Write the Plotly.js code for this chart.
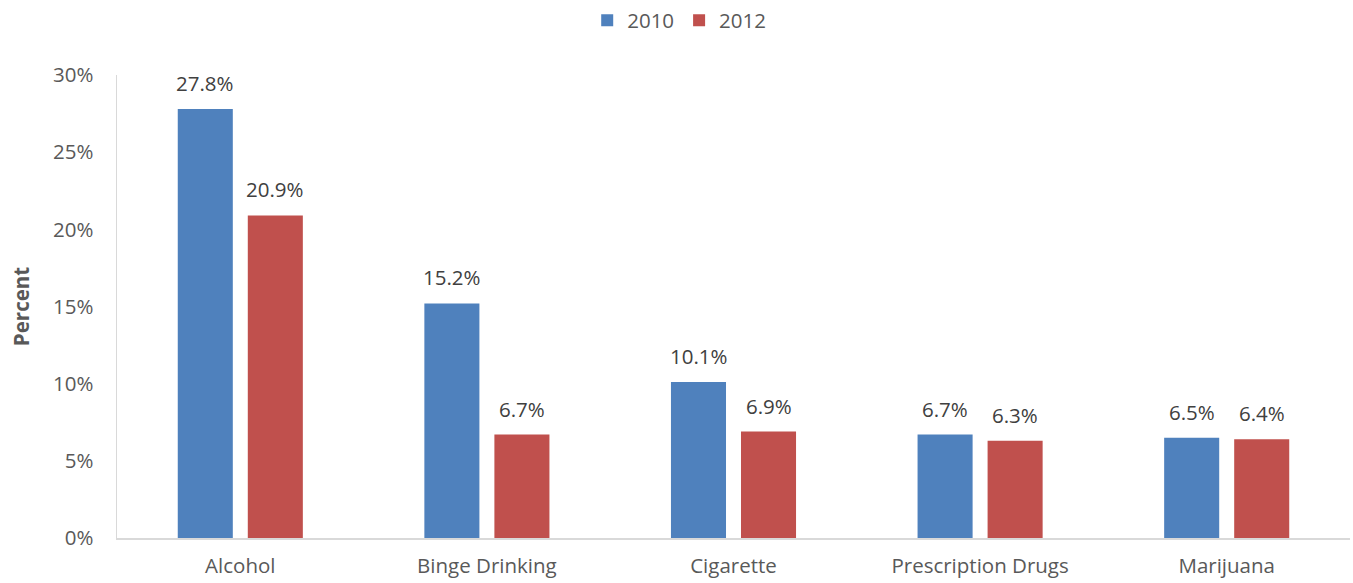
<!DOCTYPE html>
<html>
<head>
<meta charset="utf-8">
<script src="https://cdn.plot.ly/plotly-3.0.1.min.js"></script>
<style>html,body{margin:0;padding:0;background:#fff}#chart{width:1353px;height:583px}</style>
</head>
<body>
<div id="chart"></div>
<script>
const categories = ["Alcohol", "Binge Drinking", "Cigarette", "Prescription Drugs", "Marijuana"];
const series2010 = [27.8, 15.2, 10.1, 6.7, 6.5];
const series2012 = [20.9, 6.7, 6.9, 6.3, 6.4];
const seriesNames = ["2010", "2012"];
const yTickVals = [0, 5, 10, 15, 20, 25, 30];
const yTickText = ["0%", "5%", "10%", "15%", "20%", "25%", "30%"];

const FONT = "'Open Sans', Lato, sans-serif";
const FS = 20.5;
const traces = [
  {type: "bar", name: seriesNames[0], x: categories, y: series2010, marker: {color: "#4F81BD"}, hoverinfo: "none"},
  {type: "bar", name: seriesNames[1], x: categories, y: series2012, marker: {color: "#C0504D"}, hoverinfo: "none"}
];
const annotations = [];
[series2010, series2012].forEach((vals, si) => {
  vals.forEach((v, i) => {
    annotations.push({x: categories[i], y: v, xref: "x", yref: "y", text: v.toFixed(1) + "%",
      showarrow: false, yanchor: "bottom", yshift: 10, xshift: si === 0 ? -35 : 35,
      font: {family: FONT, size: FS, color: "#404040"}});
  });
});
const layout = {
  width: 1353, height: 583,
  margin: {l: 117, r: 3, t: 75, b: 45, autoexpand: false},
  paper_bgcolor: "#fff", plot_bgcolor: "#fff",
  barmode: "group", bargap: 0.432, bargroupgap: 0.214,
  font: {family: FONT, size: FS, color: "#595959"},
  showlegend: true,
  legend: {orientation: "h", x: 0.502, xanchor: "center", xref: "container", y: 0.965, yref: "container", yanchor: "middle", font: {size: FS, color: "#595959"}, itemwidth: 30, traceorder: "normal"},
  xaxis: {showline: true, linecolor: "#D9D9D9", linewidth: 1.5, showgrid: false, ticks: "", ticklabelstandoff: 9, tickfont: {size: FS, color: "#595959"}, fixedrange: true, automargin: false},
  yaxis: {range: [0, 30], tickvals: yTickVals, ticktext: yTickText, showline: true, linecolor: "#D9D9D9", linewidth: 1.5, showgrid: false, zeroline: false, ticks: "", ticklabelstandoff: 18, tickfont: {size: FS, color: "#595959"},
    title: {text: "<b>Percent</b>", font: {size: FS, color: "#595959"}, standoff: 18}, fixedrange: true, automargin: false},
  annotations: annotations
};
Plotly.newPlot("chart", traces, layout, {displayModeBar: false, staticPlot: true});
</script>
</body>
</html>
